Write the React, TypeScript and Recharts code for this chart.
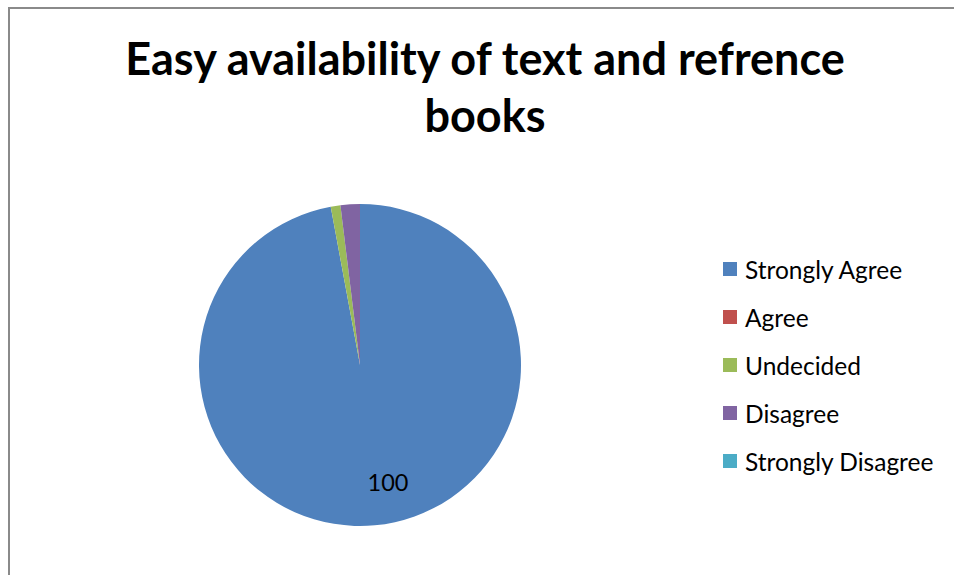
import { PieChart, Pie, Cell, Legend } from 'recharts';

const categories = ['Strongly Agree', 'Agree', 'Undecided', 'Disagree', 'Strongly Disagree'];
const values = [100, 0, 1, 2, 0];
const colors = ['#4F81BD', '#C0504D', '#9BBB59', '#8064A2', '#4BACC6'];
const titleLines = ['Easy availability of text and refrence', 'books'];

const data = categories.map((name, i) => ({ name, value: values[i] }));

const FONT = 'Lato, "Open Sans", sans-serif';
const RAD = Math.PI / 180;

// only the big slice carries a visible data label in the original
const renderLabel = (props: any) => {
  const { cx, cy, midAngle, outerRadius, value } = props;
  if (value < 10) return null;
  const r = outerRadius * 0.75;
  const x = cx + r * Math.cos(-midAngle * RAD) + 17;
  const y = cy + r * Math.sin(-midAngle * RAD) - 3;
  return (
    <text x={x} y={y} fill="#000" fontSize={23.5} fontFamily={FONT} textAnchor="middle" dominantBaseline="central">
      {value}
    </text>
  );
};

const renderLegend = () => (
  <div style={{ fontFamily: FONT, fontSize: 24.5, color: '#000' }}>
    {categories.map((c, i) => (
      <div key={c} style={{ display: 'flex', alignItems: 'center', height: 48 }}>
        <span style={{ width: 14, height: 14, background: colors[i], marginRight: 8, display: 'inline-block' }} />
        <span>{c}</span>
      </div>
    ))}
  </div>
);

export default function App() {
  return (
    <div style={{ position: 'absolute', left: 0, top: 0, width: 954, height: 575, overflow: 'hidden', background: '#fff' }}>
      <div
        style={{
          position: 'absolute',
          left: 8,
          top: 7,
          width: 980,
          height: 600,
          border: '2px solid #8a8a8a',
          boxSizing: 'border-box',
        }}
      />
      <div
        style={{
          position: 'absolute',
          left: 0,
          top: 30,
          width: 970,
          textAlign: 'center',
          fontFamily: FONT,
          fontWeight: 700,
          fontSize: 45,
          lineHeight: '57px',
          color: '#000',
        }}
      >
        {titleLines.map((l) => (
          <div key={l}>{l}</div>
        ))}
      </div>
      <div style={{ position: 'absolute', left: 0, top: 0 }}>
        <PieChart width={954} height={575} margin={{ top: 0, right: 0, bottom: 0, left: 0 }}>
          <Pie
            data={data}
            dataKey="value"
            nameKey="name"
            cx={360}
            cy={365}
            outerRadius={161}
            startAngle={90}
            endAngle={-270}
            stroke="none"
            label={renderLabel}
            labelLine={false}
            isAnimationActive={false}
          >
            {data.map((d, i) => (
              <Cell key={d.name} fill={colors[i]} />
            ))}
          </Pie>
          <Legend
            content={renderLegend}
            wrapperStyle={{ position: 'absolute', left: 723, top: 245, width: 230 }}
          />
        </PieChart>
      </div>
    </div>
  );
}
